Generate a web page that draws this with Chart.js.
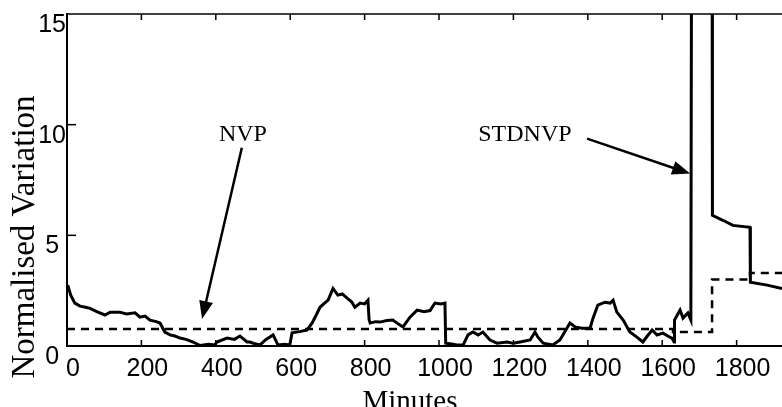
<!DOCTYPE html>
<html>
<head>
<meta charset="utf-8">
<script src="https://cdn.jsdelivr.net/npm/chart.js@4"></script>
<style>
body { margin: 0; background: #fff; }
canvas { display: block; }
</style>
</head>
<body>
<canvas id="chart1" width="782" height="407"></canvas>
<script>
// STDNVP (solid line)
let stdMinutes = [2, 10, 21, 35, 50, 62, 80, 102, 116, 142, 160, 183, 196, 210, 223, 240, 250, 263, 277, 290,
    304, 320, 339, 358, 380, 398, 403, 430, 450, 465, 484, 492, 505, 519, 535, 554, 567, 585, 599, 605,
    625, 645, 659, 670, 680, 690, 702, 715, 728, 740, 753, 765, 774, 788, 800, 809, 812, 815, 830, 841,
    860, 876, 890, 903, 922, 941, 960, 976, 989, 1005, 1016, 1018, 1030, 1048, 1065, 1078, 1091, 1105, 1118, 1137,
    1156, 1183, 1200, 1218, 1245, 1258, 1266, 1280, 1306, 1325, 1333, 1352, 1366, 1384, 1406, 1414, 1427, 1446, 1460, 1468,
    1478, 1495, 1513, 1532, 1548, 1560, 1573, 1586, 1602, 1615, 1626, 1632, 1633, 1648, 1656, 1669, 1677, 1679, 1734, 1735,
    1763, 1790, 1836, 1837, 1882, 1922];
let stdValues = [2.75, 2.3, 1.94, 1.8, 1.75, 1.7, 1.55, 1.4, 1.53, 1.53, 1.45, 1.5, 1.3, 1.35, 1.17, 1.1, 1.04, 0.63, 0.5, 0.45,
    0.36, 0.3, 0.18, 0.02, 0.08, 0.05, 0.18, 0.36, 0.3, 0.45, 0.18, 0.18, 0.1, 0.05, 0.3, 0.5, 0.05, 0.08, 0.05, 0.6,
    0.65, 0.72, 1.04, 1.4, 1.75, 1.9, 2.07, 2.6, 2.3, 2.35, 2.16, 2.0, 1.75, 1.94, 1.9, 2.07, 1.2, 1.04, 1.1, 1.08,
    1.15, 1.17, 1.0, 0.86, 1.3, 1.62, 1.55, 1.6, 1.94, 1.9, 1.94, 0.13, 0.1, 0.05, 0.05, 0.5, 0.63, 0.5, 0.63, 0.27,
    0.13, 0.18, 0.12, 0.18, 0.27, 0.63, 0.4, 0.13, 0.05, 0.27, 0.5, 1.04, 0.86, 0.8, 0.8, 1.26, 1.85, 1.98, 1.94, 2.07,
    1.53, 1.17, 0.63, 0.4, 0.18, 0.45, 0.72, 0.5, 0.58, 0.45, 0.36, 0.18, 1.17, 1.62, 1.26, 1.49, 1.17, 20, 20, 5.9,
    5.68, 5.45, 5.36, 2.88, 2.75, 2.6];

// NVP (dashed step line)
let nvpMinutes = [0, 1629, 1629, 1734, 1734, 1836, 1836, 1922];
let nvpValues = [0.77, 0.77, 0.63, 0.63, 3.0, 3.0, 3.3, 3.3];

let xTicks = [0, 200, 400, 600, 800, 1000, 1200, 1400, 1600, 1800];
let yTicks = [0, 5, 10, 15];
let xTitle = "Minutes";
let yTitle = "Normalised Variation";

// labels with arrows: [text, textX, textY, fromX, fromY, toX, toY] in data units
let notes = [
    ["NVP", 473, 9.55, 470, 8.96, 363, 1.22],
    ["STDNVP", 1231, 9.55, 1398, 9.37, 1675, 7.79]
];

function pts(xs, ys) {
    return xs.map((x, i) => ({x: x, y: ys[i]}));
}

function arrow(ctx, x1, y1, x2, y2) {
    let a = Math.atan2(y2 - y1, x2 - x1);
    let len = 18, w = 7;
    ctx.beginPath();
    ctx.moveTo(x1, y1);
    ctx.lineTo(x2 - Math.cos(a) * len * 0.8, y2 - Math.sin(a) * len * 0.8);
    ctx.stroke();
    ctx.beginPath();
    ctx.moveTo(x2, y2);
    ctx.lineTo(x2 - Math.cos(a) * len - Math.sin(a) * w, y2 - Math.sin(a) * len + Math.cos(a) * w);
    ctx.lineTo(x2 - Math.cos(a) * len + Math.sin(a) * w, y2 - Math.sin(a) * len - Math.cos(a) * w);
    ctx.closePath();
    ctx.fill();
}

let extras = {
    id: "extras",
    afterDraw(chart) {
        let ctx = chart.ctx, xs = chart.scales.x, ys = chart.scales.y, area = chart.chartArea;
        ctx.save();
        ctx.strokeStyle = "#000";
        ctx.fillStyle = "#000";
        // top border
        ctx.lineWidth = 1.5;
        ctx.beginPath();
        ctx.moveTo(area.left, area.top);
        ctx.lineTo(area.right, area.top);
        ctx.stroke();
        // inward ticks
        ctx.lineWidth = 1.5;
        xTicks.slice(1).forEach(t => {
            let px = xs.getPixelForValue(t);
            ctx.beginPath();
            ctx.moveTo(px, area.bottom); ctx.lineTo(px, area.bottom - 6);
            ctx.moveTo(px, area.top); ctx.lineTo(px, area.top + 6);
            ctx.stroke();
        });
        yTicks.slice(1, -1).forEach(t => {
            let py = ys.getPixelForValue(t);
            ctx.beginPath();
            ctx.moveTo(area.left, py); ctx.lineTo(area.left + 9, py);
            ctx.stroke();
        });
        // notes
        ctx.font = "24px 'Liberation Serif'";
        ctx.textAlign = "center";
        ctx.textBaseline = "middle";
        ctx.lineWidth = 2.5;
        notes.forEach(n => {
            ctx.fillText(n[0], xs.getPixelForValue(n[1]), ys.getPixelForValue(n[2]));
            arrow(ctx, xs.getPixelForValue(n[3]), ys.getPixelForValue(n[4]),
                xs.getPixelForValue(n[5]), ys.getPixelForValue(n[6]));
        });
        // axis titles
        ctx.font = "29px 'Liberation Serif'";
        ctx.fillText(xTitle, 410, 402);
        ctx.font = "33px 'Liberation Serif'";
        ctx.translate(25, 237);
        ctx.rotate(-Math.PI / 2);
        ctx.fillText(yTitle, 0, 0);
        ctx.restore();
    }
};

new Chart(document.getElementById("chart1"), {
    type: "line",
    data: {
        datasets: [
            { label: "STDNVP", data: pts(stdMinutes, stdValues), borderColor: "#000",
                borderWidth: 3, pointRadius: 0, tension: 0 },
            { label: "NVP", data: pts(nvpMinutes, nvpValues), borderColor: "#000",
                borderWidth: 2.5, borderDash: [8, 6], pointRadius: 0, tension: 0 }
        ]
    },
    options: {
        responsive: false,
        animation: false,
        devicePixelRatio: 1,
        layout: { padding: { top: 14, right: 0, left: 0, bottom: 0 } },
        plugins: { legend: { display: false }, tooltip: { enabled: false } },
        scales: {
            x: {
                type: "linear", min: 0, max: 1922,
                grid: { display: false },
                border: { color: "#000", width: 2 },
                afterFit: s => { s.height = 61; },
                afterBuildTicks: s => { s.ticks = xTicks.map(v => ({value: v})); },
                ticks: { color: "#000", font: { family: "'Liberation Sans'", size: 25 },
                    padding: 0, labelOffset: 6, maxRotation: 0, autoSkip: false,
                    callback: v => String(v) }
            },
            y: {
                min: 0, max: 15,
                grid: { display: false },
                border: { color: "#000", width: 2 },
                afterFit: s => { s.width = 67; },
                afterBuildTicks: s => { s.ticks = yTicks.map(v => ({value: v})); },
                ticks: { color: "#000", font: { family: "'Liberation Sans'", size: 25 },
                    padding: -7, crossAlign: "center", labelOffset: 11,
                    callback: v => String(v) }
            }
        }
    },
    plugins: [extras]
});
</script>
</body>
</html>
